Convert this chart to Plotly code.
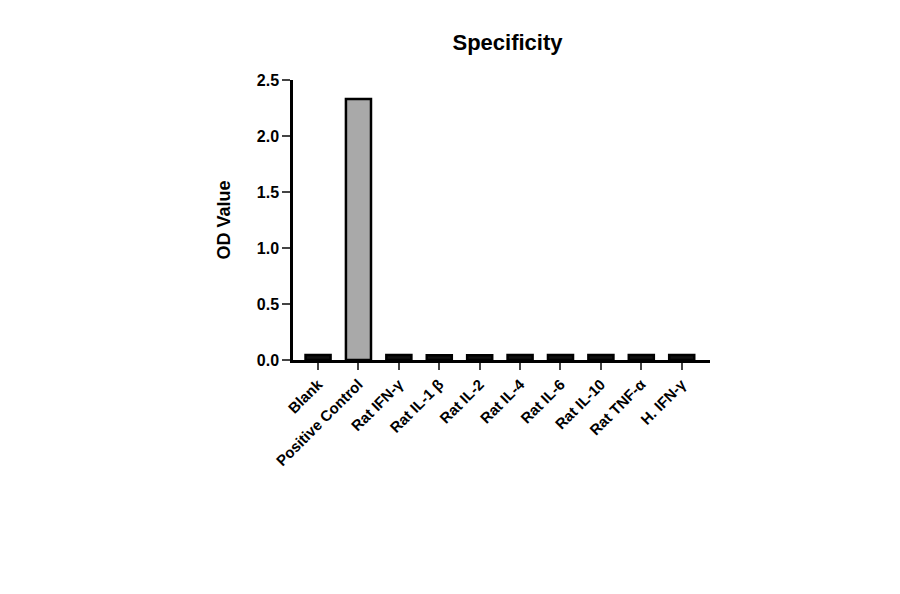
import plotly.graph_objects as go

categories = ["Blank", "Positive Control", "Rat IFN-γ", "Rat IL-1 β", "Rat IL-2",
              "Rat IL-4", "Rat IL-6", "Rat IL-10", "Rat TNF-α", "H. IFN-γ"]
od_values = [0.045, 2.33, 0.045, 0.042, 0.043, 0.044, 0.045, 0.044, 0.045, 0.045]
bar_colors = ["#111111", "#a9a9a9"] + ["#111111"] * 8

font = "Liberation Sans"

fig = go.Figure(
    go.Bar(
        x=list(range(len(categories))),
        y=od_values,
        width=0.62,
        marker=dict(color=bar_colors, line=dict(color="black", width=2.5)),
    )
)

fig.update_layout(
    width=900,
    height=594,
    paper_bgcolor="white",
    plot_bgcolor="white",
    showlegend=False,
    margin=dict(l=285, r=198, t=72, b=242),
    font=dict(family=font, size=16, color="black"),
    title=dict(
        text="<b>Specificity</b>",
        x=0.555,
        xanchor="center",
        y=0.955,
        font=dict(size=22),
    ),
)

fig.update_xaxes(
    tickmode="array",
    tickvals=list(range(len(categories))),
    ticktext=[f"<b>{c}</b>" for c in categories],
    tickangle=-45,
    range=[-0.62, 9.7],
    showline=True,
    linecolor="black",
    linewidth=2.5,
    ticks="outside",
    ticklen=7,
    tickwidth=2,
    showgrid=False,
    zeroline=False,
    tickfont=dict(size=15),
)

fig.update_yaxes(
    range=[0, 2.5],
    tickvals=[0, 0.5, 1.0, 1.5, 2.0, 2.5],
    ticktext=["<b>0.0</b>", "<b>0.5</b>", "<b>1.0</b>", "<b>1.5</b>", "<b>2.0</b>", "<b>2.5</b>"],
    showline=True,
    linecolor="black",
    linewidth=2.5,
    ticks="outside",
    ticklen=8,
    tickwidth=2,
    showgrid=False,
    zeroline=False,
    title=dict(text="<b>OD Value</b>", font=dict(size=18), standoff=22),
    tickfont=dict(size=16),
)

fig.write_html("out.html")
